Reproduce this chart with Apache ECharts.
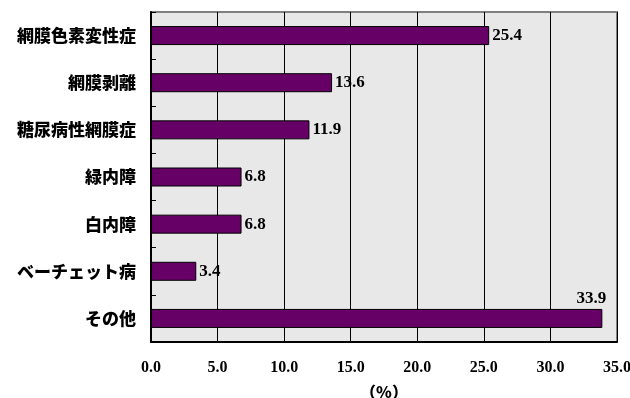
<!DOCTYPE html>
<html>
<head>
<meta charset="utf-8">
<script src="https://cdn.jsdelivr.net/npm/echarts@6/dist/echarts.min.js"></script>
<style>
  html, body { margin: 0; padding: 0; background: #ffffff; }
  #chart { width: 630px; height: 398px; }
</style>
</head>
<body>
<div id="chart"></div>
<script>
// Causes of visual impairment, share in percent
const categories = ['網膜色素変性症', '網膜剥離', '糖尿病性網膜症', '緑内障', '白内障', 'ベーチェット病', 'その他'];
const values = [25.4, 13.6, 11.9, 6.8, 6.8, 3.4, 33.9];
const xTicks = { min: 0, max: 35, interval: 5 };
const unitLabel = '（%）';

const serif = '"Liberation Serif", "Times New Roman", serif';
const gothic = '"Noto Sans CJK JP", sans-serif';

// The longest bar carries its label above the bar end instead of beside it
const seriesData = values.map((v, i) => {
  const item = { value: v };
  if (i === values.length - 1) {
    item.label = { position: 'insideRight', offset: [4, -20], distance: 0 };
  }
  return item;
});

const chart = echarts.init(document.getElementById('chart'), null, { renderer: 'canvas' });
chart.setOption({
  backgroundColor: '#ffffff',
  animation: false,
  grid: {
    left: 151, right: 13, top: 12, bottom: 56,
    containLabel: false,
    outerBoundsMode: 'none',
    show: true,
    backgroundColor: '#e8e8e8',
    borderColor: '#808080',
    borderWidth: 2
  },
  xAxis: {
    type: 'value',
    min: xTicks.min, max: xTicks.max, interval: xTicks.interval,
    name: unitLabel,
    nameLocation: 'middle',
    nameGap: 42,
    nameTextStyle: { fontFamily: gothic, fontWeight: 900, fontSize: 16, color: '#000' },
    axisLine: { show: true, lineStyle: { color: '#000', width: 2 } },
    axisTick: { show: false },
    splitLine: { show: true, lineStyle: { color: '#000', width: 1 } },
    axisLabel: {
      margin: 18,
      fontFamily: serif, fontWeight: 'bold', fontSize: 16, color: '#000',
      formatter: v => v.toFixed(1)
    }
  },
  yAxis: {
    type: 'category',
    data: categories,
    inverse: true,
    axisLine: { show: true, lineStyle: { color: '#000', width: 2 } },
    axisTick: { show: true, inside: true, length: 5, lineStyle: { color: '#000', width: 1 } },
    splitLine: { show: false },
    axisLabel: {
      margin: 15,
      fontFamily: gothic, fontWeight: 900, fontSize: 17, color: '#000'
    }
  },
  series: [{
    type: 'bar',
    data: seriesData,
    barWidth: 19,
    itemStyle: { color: '#660066', borderColor: '#000', borderWidth: 1 },
    label: {
      show: true,
      position: 'right',
      distance: 3,
      fontFamily: serif, fontWeight: 'bold', fontSize: 17, color: '#000',
      formatter: p => p.value.toFixed(1)
    }
  }]
});
</script>
</body>
</html>
